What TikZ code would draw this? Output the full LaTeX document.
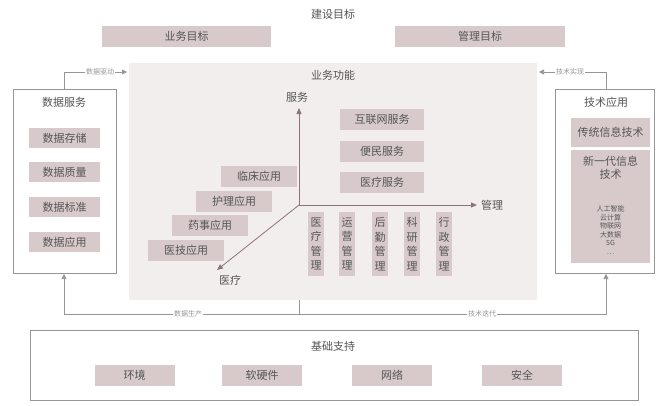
\documentclass[tikz,border=0pt]{standalone}
\usepackage{fontspec}
\setmainfont{Noto Sans CJK SC}
\usetikzlibrary{arrows.meta}
\definecolor{boxc}{RGB}{216,202,203}
\definecolor{areac}{RGB}{243,238,238}
\definecolor{txt}{RGB}{85,85,85}
\definecolor{linec}{RGB}{150,150,150}
\definecolor{axisc}{RGB}{140,115,120}
\begin{document}
\begin{tikzpicture}[x=1pt,y=-1pt,
  every node/.style={text=txt,font=\fontsize{11}{13}\selectfont},
  fb/.style={fill=boxc,draw=none,inner sep=0},
  panel/.style={draw=linec,fill=white,line width=0.6pt},
  conn/.style={draw=linec,line width=0.6pt},
  arr/.style={conn,-{Triangle[length=5pt,width=5pt]}},
  ax/.style={draw=axisc,line width=0.8pt,-{Triangle[length=6pt,width=5pt]}},
  small/.style={font=\fontsize{7}{8}\selectfont,text=linec,fill=white,inner sep=1pt}]
\useasboundingbox (0,0) rectangle (671,405);
\node (title) at (333,14) {建设目标};
\node[fb,minimum width=169,minimum height=21] (g1) at (186.5,36.5) {业务目标};
\node[fb,minimum width=170,minimum height=21] (g2) at (480,36.5) {管理目标};
\fill[areac] (129,63) rectangle (537,300);
\coordinate (areaL) at (127,72);
\coordinate (areaR) at (539,72);
\coordinate (areaB) at (299,300);
\node (bf) at (333,75) {业务功能};
% left panel
\draw[panel] (13,89) rectangle (116,273);
\coordinate (lt) at (64,89); \coordinate (lb) at (64,274);
\node at (64,102) {数据服务};
\foreach \y/\t in {138/数据存储,172/数据质量,207/数据标准,242/数据应用}
  \node[fb,minimum width=71,minimum height=20] at (64.5,\y) {\t};
% right panel
\draw[panel] (555,89) rectangle (654,273);
\coordinate (rt) at (606,89); \coordinate (rb) at (606,274);
\node at (606,102) {技术应用};
\node[fb,minimum width=79,minimum height=29] at (610.5,132.5) {传统信息技术};
\fill[boxc] (571,150) rectangle (650,263);
\node[align=center] at (610.5,168) {新一代信息\\技术};
\node[align=center,font=\fontsize{7}{8.5}\selectfont] at (610.5,230) {人工智能\\云计算\\物联网\\大数据\\5G\\…};
% axes
\coordinate (o) at (299,205);
\node (sv) at (297,97) {服务};
\node (mg) at (492,205) {管理};
\node (md) at (230,280) {医疗};
\draw[ax] (o) -- (299,108);
\draw[ax] (o) -- (477,205);
\draw[ax] (o) -- (217,270);
\foreach \y/\t in {119.5/互联网服务,151.5/便民服务,182.5/医疗服务}
  \node[fb,minimum width=84,minimum height=21] at (382,\y) {\t};
\node[fb,minimum width=76,minimum height=21] at (259,176.5) {临床应用};
\node[fb,minimum width=76,minimum height=21] at (234,201.5) {护理应用};
\node[fb,minimum width=76,minimum height=21] at (210,225.5) {药事应用};
\node[fb,minimum width=76,minimum height=21] at (186,250.5) {医技应用};
\foreach \x/\a/\b in {316/医/疗,347/运/营,380/后/勤,412/科/研,444/行/政}
  \node[fb,minimum width=16,minimum height=64,align=center,font=\fontsize{11}{14.5}\selectfont] at (\x,244) {\a\\\b\\管\\理};
% bottom panel
\draw[panel] (30,330) rectangle (638,400);
\node at (333,346) {基础支持};
\foreach \x/\t in {134.5/环境,262/软硬件,392/网络,522/安全}
  \node[fb,minimum width=80,minimum height=21] at (\x,375.5) {\t};
% feedback connectors
\draw[arr] (lt) -- (64,72) -- (areaL);
\node[small] at (100,72) {数据驱动};
\draw[arr] (rt) -- (606,72) -- (areaR);
\node[small] at (570,72) {技术实现};
\draw[conn] (areaB) -- (299,314);
\draw[arr] (299,314) -- (64,314) -- (lb);
\draw[arr] (299,314) -- (606,314) -- (rb);
\node[small] at (188,314) {数据生产};
\node[small] at (482,314) {技术迭代};
\end{tikzpicture}
\end{document}
